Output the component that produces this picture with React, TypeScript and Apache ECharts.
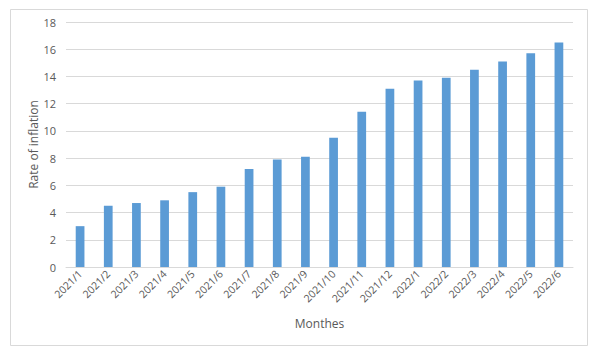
import React, { useEffect, useRef } from "react";
import * as echarts from "echarts";

const categories = [
  "2021/1", "2021/2", "2021/3", "2021/4", "2021/5", "2021/6",
  "2021/7", "2021/8", "2021/9", "2021/10", "2021/11", "2021/12",
  "2022/1", "2022/2", "2022/3", "2022/4", "2022/5", "2022/6",
];
const inflation = [3.0, 4.5, 4.7, 4.9, 5.5, 5.9, 7.2, 7.9, 8.1, 9.5, 11.4, 13.1, 13.7, 13.9, 14.5, 15.1, 15.7, 16.5];

export default function App() {
  const ref = useRef<HTMLDivElement>(null);
  useEffect(() => {
    if (!ref.current) return;
    const chart = echarts.init(ref.current, undefined, { renderer: "svg" });
    const font = "'Open Sans', 'Noto Sans', sans-serif";
    chart.setOption({
      animation: false,
      backgroundColor: "#ffffff",
      textStyle: { fontFamily: font },
      graphic: [
        {
          type: "rect",
          shape: { x: 10.5, y: 9.5, width: 577, height: 336 },
          style: { fill: "none", stroke: "#D9D9D9", lineWidth: 1 },
          silent: true,
        },
      ],
      grid: { left: 66, right: 27, top: 22, bottom: 86, containLabel: false },
      xAxis: {
        type: "category",
        data: categories,
        name: "Monthes",
        nameLocation: "middle",
        nameGap: 50,
        nameMoveOverlap: false,
        nameTextStyle: { color: "#595959", fontSize: 12, fontFamily: font },
        axisLine: { lineStyle: { color: "#D9D9D9" } },
        axisTick: { show: false },
        axisLabel: { rotate: 45, color: "#595959", fontSize: 10.5, fontFamily: font, interval: 0, margin: 5 },
      },
      yAxis: {
        type: "value",
        min: 0,
        max: 18,
        interval: 2,
        name: "Rate of inflation",
        nameLocation: "middle",
        nameGap: 27,
        nameMoveOverlap: false,
        nameTextStyle: { color: "#595959", fontSize: 12, fontFamily: font },
        axisLine: { show: false },
        axisTick: { show: false },
        axisLabel: { color: "#595959", fontSize: 11, fontFamily: font, margin: 10 },
        splitLine: { lineStyle: { color: "#D9D9D9", width: 1 } },
      },
      series: [
        {
          type: "bar",
          data: inflation,
          barWidth: "31%",
          itemStyle: { color: "#5B9BD5" },
        },
      ],
    });
    return () => chart.dispose();
  }, []);
  return <div ref={ref} style={{ position: "absolute", left: 0, top: 0, width: 600, height: 353 }} />;
}
